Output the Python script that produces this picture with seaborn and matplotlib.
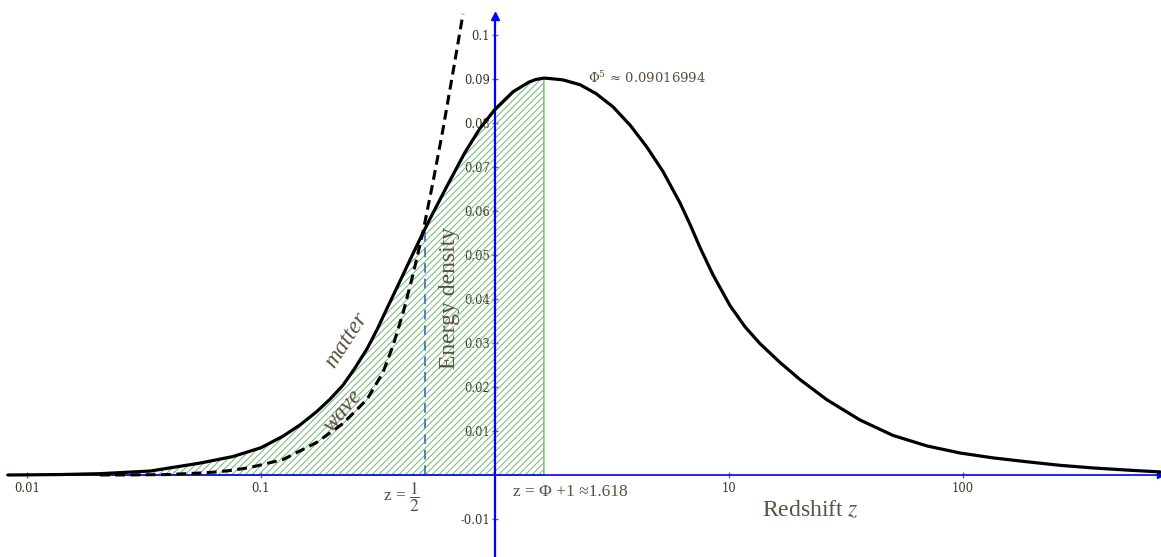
import numpy as np
import pandas as pd
import matplotlib
matplotlib.use("Agg")
import matplotlib.pyplot as plt
from matplotlib.ticker import NullLocator
import seaborn as sns

# ---- data ----
matter_z = [0.0083, 0.0138, 0.0205, 0.0336, 0.0548, 0.0759, 0.1, 0.124, 0.147, 0.173,
            0.197, 0.224, 0.252, 0.284, 0.313, 0.345, 0.393, 0.446, 0.492, 0.527,
            0.624, 0.744, 0.863, 1.0, 1.194, 1.397, 1.497, 1.618, 1.718, 1.95,
            2.31, 2.70, 3.19, 3.78, 4.46, 5.22, 6.18, 6.81, 7.52, 8.54,
            10.1, 11.7, 13.6, 16.5, 20.1, 26.2, 36.3, 50.2, 70.2, 97.1,
            134, 188, 260, 360, 502, 695]
matter_e = [0.0, 0.0001, 0.0003, 0.0009, 0.0027, 0.0042, 0.0062, 0.0088, 0.0114, 0.0144,
            0.0172, 0.0204, 0.0243, 0.0287, 0.0330, 0.0378, 0.0441, 0.0503, 0.0550, 0.0582,
            0.0657, 0.0733, 0.0788, 0.0831, 0.0871, 0.0893, 0.0899, 0.0902, 0.0901, 0.0898,
            0.0887, 0.0867, 0.0837, 0.0795, 0.0745, 0.0690, 0.0618, 0.0570, 0.0517, 0.0455,
            0.0385, 0.0337, 0.0298, 0.0256, 0.0217, 0.0171, 0.0125, 0.0090, 0.0066, 0.0050,
            0.0039, 0.0030, 0.0022, 0.0016, 0.00112, 0.0007]

wave_z = [0.0205, 0.0284, 0.0397, 0.0548, 0.0649, 0.0759, 0.0897, 0.124, 0.173, 0.224,
          0.284, 0.332, 0.366, 0.404, 0.446, 0.492, 0.543, 0.599, 0.661, 0.730]
wave_e = [0.0, 0.00002, 0.0001, 0.00045, 0.0007, 0.0011, 0.0017, 0.0035, 0.0074, 0.0117,
          0.0172, 0.0233, 0.0293, 0.0367, 0.0455, 0.0552, 0.0665, 0.0785, 0.0915, 0.1048]

z_half = 0.5
z_phi = 1.618

xtick_vals = [0.01, 0.1, 10, 100]
xtick_labels = ["0.01", "0.1", "10", "100"]
ytick_vals = [-0.01, 0.01, 0.02, 0.03, 0.04, 0.05, 0.06, 0.07, 0.08, 0.09, 0.1]
ytick_labels = ["-0.01", "0.01", "0.02", "0.03", "0.04", "0.05", "0.06", "0.07", "0.08", "0.09", "0.1"]

matter = pd.DataFrame({"z": matter_z, "e": matter_e})
wave = pd.DataFrame({"z": wave_z, "e": wave_e})

# ---- style ----
sns.set_theme(style="white")
plt.rcParams["font.family"] = ["DejaVu Serif"]
plt.rcParams["hatch.linewidth"] = 0.7

W, H = 1161, 557
fig = plt.figure(figsize=(W / 100, H / 100), dpi=100)
ax = fig.add_axes([0, 0, 1, 1])
ax.set_facecolor("white")
ax.set_xscale("log")
ax.set_xlim(10 ** (-495 / 234), 10 ** (666 / 234))
ax.set_ylim(-82 / 4400, 475 / 4400)

AXBLUE = "#0000ff"
TXT = "#5b5042"

# hatched area under matter curve up to z = phi
fill = matter[matter["z"] <= z_phi]
ax.fill_between(fill["z"], fill["e"], 0, facecolor="none", edgecolor="#72b572",
                hatch="/////", linewidth=1.0, zorder=1)

# blue dashed line at z = 1/2
e_half = np.interp(np.log10(z_half), np.log10(matter["z"]), matter["e"])
ax.vlines(z_half, 0, e_half, colors="#4f7fc0", linestyles=(0, (5, 3)), linewidth=1.4, zorder=2)

# curves
sns.lineplot(data=matter, x="z", y="e", ax=ax, color="black", linewidth=2.3,
             zorder=5, estimator=None)
sns.lineplot(data=wave, x="z", y="e", ax=ax, color="black", linewidth=2.2,
             linestyle=(0, (3.2, 1.8)), zorder=5, estimator=None)

# axes through the origin (z=1, e=0)
for s in ["top", "right"]:
    ax.spines[s].set_visible(False)
ax.spines["left"].set_position(("data", 1))
ax.spines["bottom"].set_position(("data", 0))
ax.spines["left"].set_color(AXBLUE)
ax.spines["bottom"].set_color(AXBLUE)
ax.spines["left"].set_linewidth(1.6)
ax.spines["bottom"].set_linewidth(1.2)
ax.spines["left"].set_bounds(ax.get_ylim()[0], 0.1043)
ax.spines["bottom"].set_bounds(0.0082, 695)
ax.spines["left"].set_zorder(3)
ax.spines["bottom"].set_zorder(3)
ax.plot([695], [0], marker=">", color=AXBLUE, markersize=5, clip_on=False, zorder=3)
ax.plot([1], [0.1043], marker="^", color=AXBLUE, markersize=6, clip_on=False, zorder=3)

ax.set_xticks(xtick_vals)
ax.set_xticklabels(xtick_labels)
ax.xaxis.set_minor_locator(NullLocator())
ax.set_yticks(ytick_vals)
ax.set_yticklabels(ytick_labels)
ax.tick_params(axis="both", direction="inout", length=4.5, width=1.0, color="#5a5aff",
               labelsize=8.3, labelcolor="#3a3226", left=True, bottom=True)
ax.tick_params(axis="x", pad=3)
ax.tick_params(axis="y", pad=1.5)
ax.set_xlabel("")
ax.set_ylabel("")

# ---- text ----
def fx(px):
    return px / W

def fy(py):
    return 1 - py / H

serif = ["Liberation Serif", "DejaVu Serif"]
ax.text(fx(449), fy(298), "Energy density", transform=ax.transAxes, rotation=90,
        ha="center", va="center", fontsize=17, color=TXT, family=serif)
ax.text(fx(810), fy(511), "Redshift $\\mathit{z}$", transform=ax.transAxes,
        ha="center", va="center", fontsize=17, color=TXT, family=serif, math_fontfamily="stix")
ax.text(fx(346), fy(340), "matter", transform=ax.transAxes, rotation=57,
        ha="center", va="center", fontsize=17, color=TXT, family=serif, style="italic")
ax.text(fx(343), fy(411), "wave", transform=ax.transAxes, rotation=50,
        ha="center", va="center", fontsize=17, color=TXT, family=serif, style="italic")
ax.text(fx(383), fy(497), r"z = $\dfrac{1}{2}$", transform=ax.transAxes,
        ha="left", va="center", fontsize=12.5, color=TXT, family=serif, math_fontfamily="stix")
ax.text(fx(513), fy(492), "z = Φ +1 ≈1.618", transform=ax.transAxes,
        ha="left", va="center", fontsize=12.5, color=TXT, family=serif)
ax.text(fx(588), fy(78), r"$\Phi^5$ ≈ 0.09016994", transform=ax.transAxes,
        ha="left", va="center", fontsize=9.5, color=TXT, family=["DejaVu Serif"],
        math_fontfamily="dejavuserif")

fig.savefig("out.png", dpi=100, facecolor="white")
